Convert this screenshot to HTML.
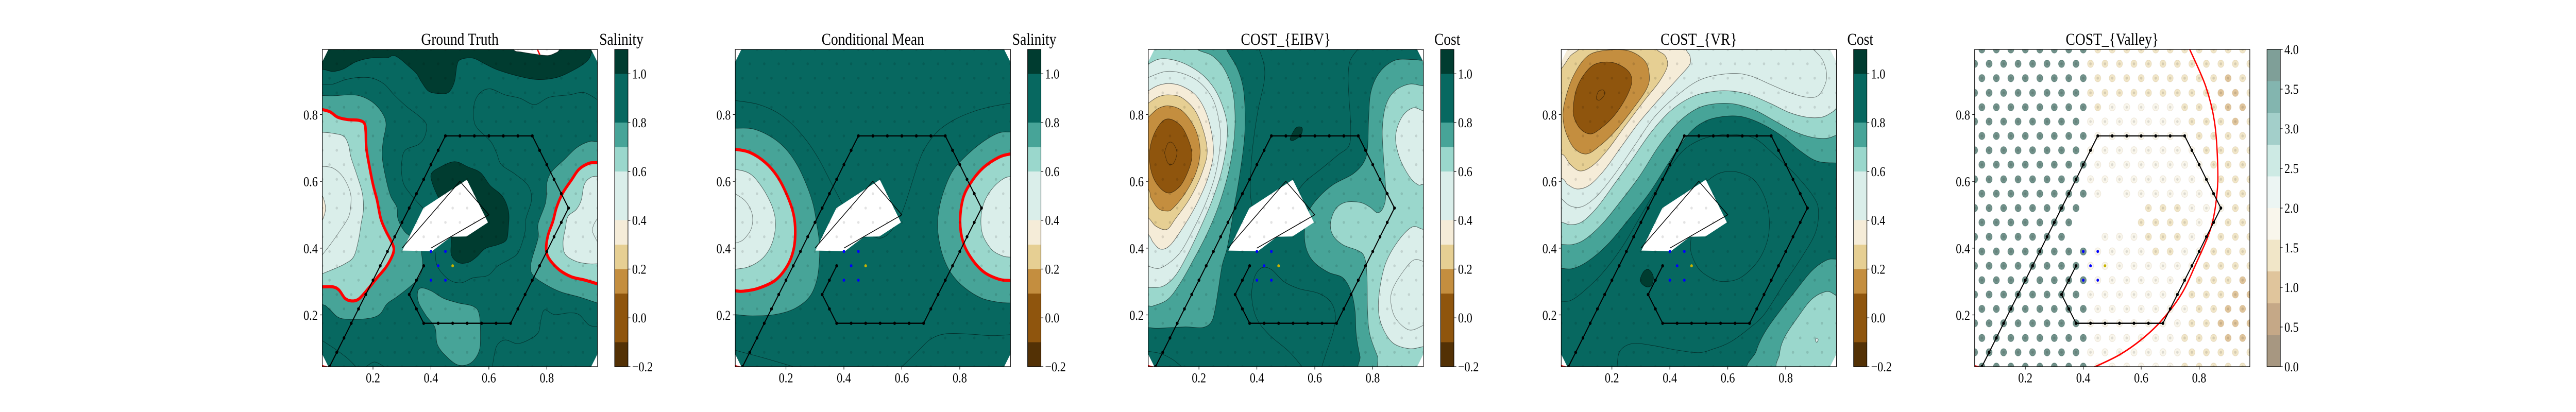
<!DOCTYPE html>
<html lang="en">
<head>
<meta charset="utf-8">
<title>Salinity and cost fields</title>
<style>
html,body{margin:0;padding:0;background:#fff;width:100%;height:100%;overflow:hidden;}
#chart{display:block;position:absolute;left:0;top:0;width:100vw;height:100vh;font-family:"Liberation Serif","Times New Roman",serif;fill:#000;}
</style>
</head>
<body>
<svg id="chart" xmlns="http://www.w3.org/2000/svg" viewBox="0 0 6000 800" preserveAspectRatio="none"></svg>
<script>
/* ---------- axes ---------- */
const xLimits=[0.025,0.975];
const yLimits=[0.045,0.995];
const xTickValues=[0.2,0.4,0.6,0.8];
const yTickValues=[0.2,0.4,0.6,0.8];
const xTickLabels=["0.2","0.4","0.6","0.8"];
const yTickLabels=["0.2","0.4","0.6","0.8"];

/* ---------- colour scales ---------- */
const fieldLevels=[-0.2,-0.1,0.1,0.2,0.3,0.4,0.6,0.7,0.8,1.0,1.1];
const fieldColors=["#533105","#8f550d","#c48e3f","#e6cf93","#f5ecd8","#daeeea","#9ad7cc","#47a498","#076860","#003c30"];
const fieldTicks=[-0.2,0,0.2,0.4,0.6,0.8,1.0];
const fieldTickLabels=["\u22120.2","0.0","0.2","0.4","0.6","0.8","1.0"];
const valleyLevels=[0,0.4,0.8,1.2,1.6,2.0,2.4,2.8,3.2,3.6,4.0];
const valleyColors=["#a79781","#c5a887","#e0c59c","#f1e6c8","#f9f6ec","#ecf5f3","#cdeae4","#a3cfca","#83b5af","#7f9f98"];
const valleyTicks=[0,0.5,1,1.5,2,2.5,3,3.5,4];
const valleyTickLabels=["0.0","0.5","1.0","1.5","2.0","2.5","3.0","3.5","4.0"];

/* ---------- sampling grid ---------- */
const gridRowY=[0.045,0.088,0.131,0.175,0.218,0.261,0.304,0.347,0.39,0.434,0.477,0.52,0.563,0.606,0.65,0.693,0.736,0.779,0.822,0.865,0.909,0.952,0.995];
const gridColEven=[0.05,0.1,0.15,0.2,0.25,0.3,0.35,0.4,0.45,0.5,0.55,0.6,0.65,0.7,0.75,0.8,0.85,0.9,0.95];
const gridColOdd=[0.025,0.075,0.125,0.175,0.225,0.275,0.325,0.375,0.425,0.475,0.525,0.575,0.625,0.675,0.725,0.775,0.825,0.875,0.925,0.975];

/* ---------- vehicle route, obstacle, samples ---------- */
const routeX=[0.05,0.075,0.1,0.125,0.15,0.175,0.2,0.225,0.25,0.275,0.3,0.325,0.35,0.375,0.4,0.425,0.45,0.5,0.55,0.6,0.65,0.7,0.75,0.775,0.8,0.825,0.85,0.875,0.85,0.825,0.8,0.775,0.75,0.725,0.7,0.675,0.625,0.575,0.525,0.475,0.425,0.375,0.35,0.325,0.35,0.375];
const routeY=[0.045,0.088,0.131,0.175,0.218,0.261,0.304,0.347,0.39,0.434,0.477,0.52,0.563,0.606,0.65,0.693,0.736,0.736,0.736,0.736,0.736,0.736,0.736,0.693,0.65,0.606,0.563,0.52,0.477,0.434,0.39,0.347,0.304,0.261,0.218,0.175,0.175,0.175,0.175,0.175,0.175,0.175,0.218,0.261,0.304,0.347];
const obstacleLine=[[0.3,0.4],[0.5,0.6],[0.6,0.5],[0.4,0.4]];
const obstacleMask=[[0.3016,0.3926],[0.374,0.52],[0.524,0.605],[0.597,0.477],[0.523,0.435],[0.469,0.434],[0.404,0.391]];
const candidateX=[0.4,0.45,0.425,0.4,0.45];
const candidateY=[0.39,0.39,0.347,0.304,0.304];
const nextPointX=[0.475];
const nextPointY=[0.347];
const cornerTL=[[0.02,0.958],[0.025,0.958],[0.046,0.995],[0.046,1.0],[0.02,1.0]];
const cornerTR=[[0.953,1.0],[0.953,0.995],[0.975,0.957],[0.98,0.957],[0.98,1.0]];
const cornerBL=[[0.02,0.082],[0.025,0.082],[0.046,0.045],[0.046,0.04],[0.02,0.04]];
const cornerBR=[[0.953,0.04],[0.953,0.045],[0.975,0.083],[0.98,0.083],[0.98,0.04]];
const cornerRed=[[0.025,0.05],[0.025,0.045],[0.045,0.045]];

/* ---------- Ground Truth contours ---------- */
const gtBand75Left=[[0.025,0.857],[0.061,0.856],[0.112,0.859],[0.154,0.856],[0.197,0.838],[0.231,0.806],[0.245,0.771],[0.235,0.721],[0.232,0.672],[0.243,0.615],[0.26,0.558],[0.282,0.523],[0.286,0.488],[0.307,0.452],[0.333,0.434],[0.367,0.417],[0.367,0.39],[0.371,0.346],[0.358,0.311],[0.324,0.282],[0.282,0.254],[0.248,0.233],[0.222,0.201],[0.18,0.189],[0.112,0.187],[0.078,0.194],[0.048,0.219],[0.025,0.231],[-0.03,0.231],[-0.03,0.857]];
const gtBand75Right=[[0.974,0.719],[0.945,0.719],[0.902,0.7],[0.86,0.665],[0.817,0.629],[0.8,0.594],[0.796,0.537],[0.77,0.473],[0.77,0.431],[0.745,0.353],[0.753,0.318],[0.8,0.289],[0.851,0.268],[0.911,0.254],[0.974,0.236],[1.03,0.22],[1.03,0.719]];
const gtBand75Bottom=[[0.367,0.281],[0.354,0.268],[0.358,0.236],[0.384,0.197],[0.414,0.162],[0.422,0.112],[0.452,0.077],[0.494,0.05],[0.537,0.056],[0.566,0.091],[0.571,0.141],[0.566,0.204],[0.545,0.226],[0.494,0.236],[0.443,0.25],[0.401,0.272]];
const gtDarkTop=[[-0.03,0.93],[0.025,0.935],[0.061,0.929],[0.099,0.937],[0.141,0.958],[0.197,0.97],[0.248,0.97],[0.269,0.977],[0.29,0.969],[0.324,0.944],[0.35,0.923],[0.367,0.898],[0.392,0.87],[0.426,0.863],[0.46,0.866],[0.481,0.898],[0.49,0.948],[0.503,0.965],[0.545,0.969],[0.588,0.951],[0.63,0.934],[0.698,0.916],[0.766,0.905],[0.834,0.911],[0.894,0.934],[0.936,0.958],[0.953,0.983],[0.953,1.03],[-0.03,1.03]];
const gtDarkCenter=[[0.405,0.594],[0.401,0.622],[0.426,0.64],[0.481,0.659],[0.528,0.643],[0.571,0.626],[0.605,0.587],[0.647,0.555],[0.668,0.509],[0.667,0.459],[0.66,0.424],[0.63,0.41],[0.588,0.399],[0.558,0.374],[0.528,0.357],[0.494,0.357],[0.47,0.381],[0.47,0.431],[0.46,0.495],[0.426,0.551]];
const gtRedLeft=[[-0.03,0.825],[0.025,0.815],[0.052,0.808],[0.078,0.792],[0.112,0.785],[0.15,0.783],[0.17,0.774],[0.175,0.749],[0.177,0.7],[0.188,0.643],[0.201,0.587],[0.214,0.544],[0.227,0.488],[0.244,0.452],[0.265,0.417],[0.272,0.396],[0.265,0.374],[0.244,0.342],[0.214,0.311],[0.18,0.275],[0.15,0.247],[0.124,0.242],[0.103,0.25],[0.082,0.275],[0.061,0.284],[0.025,0.284],[-0.03,0.284]];
const gtRedRight=[[1.03,0.658],[0.974,0.656],[0.945,0.654],[0.911,0.636],[0.885,0.604],[0.855,0.565],[0.834,0.523],[0.821,0.48],[0.804,0.438],[0.798,0.396],[0.809,0.367],[0.843,0.335],[0.885,0.314],[0.928,0.305],[0.974,0.293],[1.03,0.275]];
const gtBand50Left=[[-0.03,0.75],[0.025,0.747],[0.061,0.744],[0.099,0.735],[0.116,0.707],[0.124,0.672],[0.146,0.615],[0.163,0.565],[0.167,0.516],[0.159,0.473],[0.15,0.424],[0.133,0.374],[0.103,0.353],[0.069,0.339],[0.025,0.323],[-0.03,0.3]];
const gtBand50Right=[[1.03,0.6],[0.974,0.615],[0.945,0.608],[0.928,0.587],[0.919,0.544],[0.902,0.516],[0.873,0.495],[0.864,0.459],[0.856,0.417],[0.864,0.381],[0.902,0.36],[0.945,0.353],[0.974,0.353],[1.03,0.353]];
const gtBand35Sliver=[[0.015,0.557],[0.025,0.557],[0.035,0.53],[0.035,0.509],[0.025,0.484],[0.015,0.484]];
const gtWhiteTop=[[0.686,0.994],[0.715,0.987],[0.766,0.98],[0.804,0.977],[0.826,0.983],[0.843,0.994],[0.85,1.03],[0.68,1.03]];
const gtLine90A=[[0.025,0.891],[0.061,0.891],[0.103,0.904],[0.15,0.911],[0.197,0.909],[0.239,0.891],[0.273,0.859],[0.316,0.824],[0.358,0.796],[0.384,0.771],[0.379,0.735],[0.358,0.711],[0.311,0.693],[0.299,0.657],[0.299,0.622],[0.307,0.59],[0.333,0.558],[0.373,0.519]];
const gtLine90B=[[0.974,0.845],[0.928,0.866],[0.877,0.859],[0.809,0.852],[0.758,0.83],[0.707,0.849],[0.656,0.859],[0.605,0.877],[0.571,0.866],[0.55,0.834],[0.548,0.785],[0.562,0.757],[0.605,0.721],[0.626,0.686],[0.643,0.65],[0.69,0.622],[0.736,0.587],[0.747,0.544],[0.728,0.488],[0.724,0.445],[0.702,0.388],[0.673,0.367],[0.63,0.346],[0.596,0.318],[0.545,0.311],[0.503,0.296],[0.46,0.307],[0.422,0.346],[0.415,0.388]];
const gtLine90C=[[0.974,0.165],[0.945,0.17],[0.911,0.201],[0.877,0.206],[0.826,0.201],[0.792,0.215],[0.779,0.183],[0.771,0.148],[0.741,0.127],[0.698,0.114],[0.656,0.125],[0.626,0.105],[0.612,0.045]];
const gtLine90D=[[0.025,0.123],[0.069,0.098],[0.112,0.07],[0.141,0.045]];
const gtLine90E=[[0.176,0.045],[0.205,0.059],[0.239,0.045]];
const gtLine50Left=[[0.025,0.645],[0.061,0.64],[0.095,0.615],[0.12,0.572],[0.124,0.537],[0.116,0.494],[0.086,0.452],[0.052,0.41],[0.025,0.38]];
const gtLine50Right=[[0.974,0.488],[0.962,0.47],[0.958,0.449],[0.974,0.42]];
const gtRedTop=[[0.768,0.994],[0.776,0.979]];

/* ---------- Conditional Mean contours ---------- */
const cmBand75Left=[[-0.03,0.759],[0.025,0.759],[0.085,0.757],[0.145,0.735],[0.196,0.7],[0.238,0.65],[0.272,0.587],[0.294,0.53],[0.306,0.473],[0.315,0.417],[0.315,0.36],[0.306,0.303],[0.281,0.254],[0.23,0.219],[0.162,0.201],[0.085,0.197],[0.025,0.201],[-0.03,0.205]];
const cmBand75Right=[[1.03,0.748],[0.974,0.748],[0.935,0.745],[0.884,0.721],[0.825,0.679],[0.774,0.629],[0.74,0.558],[0.725,0.495],[0.725,0.445],[0.74,0.381],[0.77,0.325],[0.816,0.282],[0.876,0.25],[0.935,0.238],[0.974,0.236],[1.03,0.236]];
const cmRedLeft=[[-0.03,0.7],[0.025,0.696],[0.077,0.686],[0.128,0.657],[0.17,0.615],[0.204,0.558],[0.226,0.502],[0.232,0.449],[0.226,0.395],[0.204,0.346],[0.162,0.303],[0.102,0.279],[0.051,0.271],[0.025,0.272],[-0.03,0.275]];
const cmRedRight=[[1.03,0.69],[0.974,0.682],[0.935,0.672],[0.884,0.643],[0.842,0.601],[0.812,0.551],[0.801,0.48],[0.812,0.417],[0.842,0.367],[0.884,0.328],[0.935,0.307],[0.974,0.303],[1.03,0.3]];
const cmBand50Left=[[-0.03,0.64],[0.025,0.636],[0.077,0.622],[0.119,0.58],[0.153,0.523],[0.164,0.473],[0.153,0.417],[0.124,0.374],[0.077,0.346],[0.025,0.337],[-0.03,0.337]];
const cmBand50Right=[[1.03,0.61],[0.974,0.614],[0.944,0.604],[0.91,0.576],[0.884,0.537],[0.873,0.488],[0.88,0.438],[0.91,0.396],[0.944,0.378],[0.974,0.373],[1.03,0.373]];
const cmLine50=[[0.025,0.563],[0.06,0.541],[0.081,0.509],[0.085,0.48],[0.077,0.452],[0.051,0.424],[0.025,0.415]];
const cmLine90A=[[0.025,0.842],[0.102,0.831],[0.17,0.806],[0.221,0.771],[0.272,0.721],[0.315,0.664],[0.357,0.594],[0.396,0.53]];
const cmLine90B=[[0.974,0.834],[0.91,0.824],[0.85,0.81],[0.782,0.785],[0.723,0.749],[0.68,0.7],[0.655,0.65],[0.629,0.579],[0.608,0.523],[0.594,0.494]];
const cmLine90C=[[0.502,0.434],[0.527,0.43],[0.553,0.442],[0.574,0.464]];
const cmLine90D=[[0.025,0.094],[0.128,0.07],[0.226,0.045]];
const cmLine90E=[[0.6,0.045],[0.655,0.091],[0.697,0.126],[0.748,0.143],[0.825,0.143],[0.91,0.138],[0.974,0.141]];

/* ---------- COST EIBV contours ---------- */
const eibvBand75Left=[[0.285,1.03],[0.295,0.995],[0.331,0.941],[0.352,0.884],[0.359,0.813],[0.357,0.728],[0.34,0.615],[0.323,0.53],[0.314,0.481],[0.297,0.399],[0.28,0.348],[0.267,0.277],[0.255,0.214],[0.242,0.178],[0.212,0.162],[0.153,0.164],[0.059,0.16],[0.025,0.162],[-0.03,0.162],[-0.03,1.03]];
const eibvBand65Left=[[0.17,1.03],[0.195,0.995],[0.246,0.976],[0.289,0.934],[0.318,0.863],[0.324,0.757],[0.306,0.643],[0.272,0.537],[0.229,0.445],[0.178,0.36],[0.136,0.296],[0.093,0.247],[0.042,0.227],[0.025,0.227],[-0.03,0.227],[-0.03,1.03]];
const eibvBand50Left=[[-0.03,0.92],[0.025,0.951],[0.068,0.967],[0.119,0.962],[0.17,0.944],[0.221,0.912],[0.263,0.863],[0.293,0.792],[0.297,0.728],[0.28,0.636],[0.246,0.544],[0.204,0.459],[0.161,0.381],[0.119,0.318],[0.076,0.286],[0.025,0.282],[-0.03,0.28]];
const eibvBand35=[[-0.03,0.84],[0.025,0.871],[0.059,0.887],[0.097,0.893],[0.144,0.884],[0.195,0.852],[0.233,0.785],[0.25,0.693],[0.233,0.615],[0.195,0.537],[0.153,0.473],[0.102,0.41],[0.068,0.397],[0.042,0.417],[0.025,0.441],[-0.03,0.48]];
const eibvBand25=[[-0.03,0.8],[0.025,0.834],[0.059,0.853],[0.097,0.859],[0.144,0.849],[0.195,0.799],[0.228,0.7],[0.212,0.629],[0.17,0.551],[0.119,0.488],[0.089,0.456],[0.051,0.466],[0.025,0.491],[-0.03,0.53]];
const eibvBand15=[[-0.03,0.75],[0.025,0.792],[0.059,0.818],[0.097,0.826],[0.144,0.81],[0.187,0.757],[0.204,0.693],[0.191,0.629],[0.153,0.565],[0.11,0.519],[0.089,0.511],[0.059,0.519],[0.034,0.551],[0.025,0.576],[-0.03,0.62]];
const eibvBand00=[[0.029,0.679],[0.042,0.735],[0.072,0.778],[0.102,0.786],[0.14,0.764],[0.165,0.721],[0.176,0.679],[0.165,0.636],[0.136,0.587],[0.097,0.565],[0.063,0.583],[0.038,0.622]];
const eibvDarkSpot=[[0.515,0.728],[0.535,0.76],[0.556,0.76],[0.552,0.739],[0.527,0.723]];
const eibvBand75Right=[[1.03,0.962],[0.975,0.962],[0.935,0.965],[0.875,0.962],[0.824,0.927],[0.794,0.87],[0.786,0.792],[0.782,0.7],[0.769,0.657],[0.731,0.622],[0.663,0.59],[0.612,0.551],[0.578,0.509],[0.565,0.459],[0.569,0.403],[0.595,0.36],[0.646,0.328],[0.697,0.311],[0.726,0.268],[0.739,0.211],[0.743,0.141],[0.756,0.077],[0.773,0.03],[1.03,0.03]];
const eibvBand65Right=[[1.03,0.885],[0.975,0.886],[0.926,0.891],[0.875,0.87],[0.845,0.827],[0.833,0.756],[0.837,0.672],[0.845,0.566],[0.837,0.523],[0.817,0.506],[0.79,0.523],[0.756,0.537],[0.705,0.537],[0.671,0.516],[0.654,0.474],[0.663,0.438],[0.697,0.41],[0.748,0.393],[0.771,0.374],[0.78,0.318],[0.782,0.211],[0.79,0.141],[0.816,0.077],[0.837,0.03],[1.03,0.03]];
const eibvBand50TopRight=[[1.03,0.8],[0.975,0.811],[0.939,0.82],[0.901,0.793],[0.879,0.736],[0.892,0.672],[0.926,0.615],[0.956,0.59],[0.975,0.591],[1.03,0.59]];
const eibvBand50BottomRight=[[1.03,0.45],[0.975,0.456],[0.935,0.463],[0.884,0.417],[0.841,0.346],[0.82,0.245],[0.828,0.176],[0.867,0.118],[0.926,0.099],[0.975,0.105],[1.03,0.11]];
const eibvLine50Left=[[0.025,0.911],[0.085,0.929],[0.144,0.923],[0.204,0.895],[0.25,0.842],[0.272,0.764],[0.272,0.7],[0.255,0.615],[0.221,0.53],[0.178,0.452],[0.136,0.388],[0.093,0.353],[0.059,0.339],[0.025,0.346]];
const eibvLine50Right=[[0.975,0.36],[0.943,0.365],[0.909,0.335],[0.871,0.282],[0.862,0.24],[0.879,0.19],[0.926,0.155],[0.975,0.169]];
const eibvLine00=[[0.081,0.686],[0.093,0.714],[0.11,0.714],[0.124,0.686],[0.112,0.654],[0.093,0.654],[0.081,0.686]];
const eibvLine90A=[[0.408,0.995],[0.425,0.948],[0.425,0.898],[0.404,0.813],[0.386,0.707],[0.378,0.615],[0.378,0.558],[0.384,0.523]];
const eibvLine90B=[[0.748,0.995],[0.722,0.962],[0.715,0.912],[0.718,0.849],[0.724,0.764],[0.718,0.707],[0.68,0.679],[0.62,0.636],[0.569,0.601],[0.539,0.569]];
const eibvLine90C=[[0.556,0.045],[0.51,0.091],[0.442,0.141],[0.399,0.19],[0.382,0.254],[0.391,0.311],[0.416,0.341],[0.45,0.336],[0.493,0.3],[0.544,0.279],[0.612,0.265],[0.654,0.24],[0.671,0.198],[0.663,0.148],[0.641,0.091],[0.624,0.045]];
const eibvLine90D=[[0.025,0.091],[0.068,0.084],[0.11,0.066],[0.14,0.045]];

/* ---------- COST VR contours ---------- */
const vrBand75Wave=[[-0.03,0.339],[0.025,0.339],[0.065,0.339],[0.116,0.36],[0.184,0.41],[0.252,0.48],[0.329,0.565],[0.397,0.657],[0.465,0.742],[0.524,0.781],[0.592,0.795],[0.652,0.793],[0.72,0.771],[0.788,0.735],[0.847,0.693],[0.907,0.661],[0.976,0.655],[1.03,0.655],[1.03,1.03],[-0.03,1.03]];
const vrBand65Wave=[[-0.03,0.411],[0.025,0.411],[0.065,0.411],[0.108,0.427],[0.167,0.473],[0.227,0.537],[0.295,0.615],[0.363,0.707],[0.431,0.778],[0.499,0.82],[0.567,0.833],[0.626,0.831],[0.694,0.813],[0.762,0.781],[0.83,0.749],[0.89,0.732],[0.941,0.729],[0.976,0.739],[1.03,0.76],[1.03,1.03],[-0.03,1.03]];
const vrBand50Wave=[[-0.03,0.475],[0.025,0.477],[0.057,0.47],[0.099,0.48],[0.15,0.523],[0.21,0.594],[0.269,0.665],[0.337,0.749],[0.405,0.813],[0.482,0.855],[0.558,0.87],[0.618,0.87],[0.677,0.859],[0.745,0.834],[0.813,0.806],[0.873,0.792],[0.924,0.792],[0.958,0.806],[0.976,0.82],[1.03,0.87],[1.03,1.03],[-0.03,1.03]];
const vrBand35=[[-0.03,0.58],[0.025,0.608],[0.048,0.59],[0.082,0.577],[0.125,0.59],[0.176,0.636],[0.235,0.707],[0.295,0.778],[0.38,0.863],[0.439,0.919],[0.469,0.951],[0.469,0.976],[0.456,0.995],[0.45,1.03],[-0.03,1.03]];
const vrBand25=[[-0.03,0.66],[0.025,0.682],[0.057,0.65],[0.091,0.631],[0.133,0.647],[0.184,0.693],[0.244,0.764],[0.312,0.842],[0.363,0.898],[0.391,0.944],[0.384,0.976],[0.354,0.995],[0.33,1.03],[0.12,1.03],[0.086,0.995],[0.057,0.976],[0.025,0.937],[-0.03,0.89]];
const vrBand15=[[0.031,0.799],[0.04,0.849],[0.065,0.912],[0.108,0.969],[0.159,0.99],[0.252,0.992],[0.312,0.962],[0.329,0.919],[0.32,0.877],[0.269,0.813],[0.21,0.749],[0.159,0.707],[0.112,0.682],[0.069,0.7],[0.04,0.749]];
const vrBand00=[[0.067,0.827],[0.078,0.877],[0.103,0.919],[0.142,0.951],[0.201,0.956],[0.252,0.934],[0.269,0.902],[0.252,0.856],[0.21,0.799],[0.159,0.757],[0.125,0.742],[0.091,0.757],[0.069,0.792]];
const vrBand75Corner=[[0.69,0.03],[0.698,0.091],[0.728,0.148],[0.779,0.211],[0.83,0.268],[0.89,0.332],[0.941,0.364],[0.976,0.367],[1.03,0.367],[1.03,0.03]];
const vrBand65Corner=[[0.788,0.03],[0.779,0.084],[0.796,0.133],[0.839,0.19],[0.89,0.247],[0.941,0.27],[0.976,0.257],[1.03,0.23],[1.03,0.03]];
const vrBand50Speck=[[0.902,0.125],[0.908,0.131],[0.912,0.125],[0.907,0.118]];
const vrDarkSpot=[[0.299,0.311],[0.312,0.332],[0.329,0.335],[0.343,0.314],[0.337,0.289],[0.32,0.284],[0.301,0.296]];
const vrLine50=[[0.025,0.549],[0.057,0.526],[0.099,0.525],[0.15,0.558],[0.21,0.622],[0.278,0.707],[0.346,0.792],[0.422,0.855],[0.507,0.905],[0.609,0.923],[0.677,0.916],[0.745,0.891],[0.813,0.866],[0.873,0.852],[0.915,0.859],[0.941,0.909],[0.928,0.962],[0.89,1.0]];
const vrLine00=[[0.146,0.852],[0.154,0.87],[0.171,0.873],[0.174,0.859],[0.159,0.844],[0.148,0.845],[0.146,0.852]];
const vrLine90A=[[0.025,0.241],[0.057,0.243],[0.099,0.268],[0.167,0.325],[0.235,0.403],[0.303,0.502],[0.371,0.601],[0.439,0.686],[0.507,0.725],[0.575,0.739],[0.626,0.74],[0.694,0.728],[0.762,0.679],[0.839,0.615],[0.898,0.551],[0.913,0.509],[0.902,0.445],[0.856,0.374],[0.796,0.296],[0.728,0.204],[0.677,0.162],[0.609,0.119],[0.55,0.098],[0.499,0.087],[0.422,0.095],[0.337,0.109],[0.269,0.114],[0.227,0.091],[0.218,0.045]];
const vrLine90B=[[0.473,0.431],[0.473,0.388],[0.499,0.339],[0.541,0.311],[0.584,0.3],[0.643,0.311],[0.703,0.36],[0.737,0.424],[0.743,0.488],[0.728,0.551],[0.694,0.601],[0.652,0.623],[0.609,0.63],[0.567,0.623],[0.528,0.601]];

/* ---------- COST Valley scatter (bottom row first) ---------- */
const valleyCost=[
[3.8,3.8,3.8,3.8,3.8,3.8,3.8,3.8,1.8,1.8,1.8,1.8,1.8,1.8,1.4,1.4,1.4,1.4,1.4],
[3.8,3.8,3.8,3.8,3.8,3.8,3.8,3.8,1.8,1.8,1.8,1.8,1.8,1.8,1.8,1.4,1.4,1.4,1.4,1.4],
[3.8,3.8,3.8,3.8,3.8,3.8,3.8,3.8,1.8,1.8,1.8,1.8,1.8,1.8,1.4,1.4,1.4,1.1,1.1],
[3.8,3.8,3.8,3.8,3.8,3.8,3.8,3.8,1.8,1.8,1.8,1.8,1.8,1.8,1.8,1.4,1.4,1.1,1.1,1.1],
[3.8,3.8,3.8,3.8,3.8,3.8,3.8,3.8,1.8,1.8,1.8,1.8,1.8,1.8,1.8,1.4,1.4,1.1,1.1],
[3.8,3.8,3.8,3.8,3.8,3.8,3.8,3.8,1.8,1.8,1.8,1.8,1.8,1.8,1.8,1.4,1.4,1.4,1.1,1.1],
[3.8,3.8,3.8,3.8,3.8,3.8,3.8,3.8,1.8,1.8,1.8,1.8,1.8,1.8,1.8,1.4,1.4,1.5,1.1],
[3.8,3.8,3.8,3.8,3.8,3.8,3.8,3.8,1.8,1.8,1.8,1.8,1.8,1.8,1.8,1.8,1.4,1.4,1.4,1.4],
[3.8,3.8,3.8,3.8,3.8,3.8,3.8,3.8,1.8,1.8,1.8,1.8,1.4,1.4,1.8,1.8,1.4,1.4,1.4],
[3.8,3.8,3.8,3.8,3.8,3.8,3.8,null,null,1.8,1.8,1.8,1.4,1.4,1.4,1.8,1.8,1.4,1.4,1.4],
[3.8,3.8,3.8,3.8,3.8,3.8,3.8,null,null,null,null,1.4,1.4,1.4,1.4,1.8,1.8,1.4,1.4],
[3.8,3.8,3.8,3.8,3.8,3.8,3.8,3.8,null,null,null,null,1.4,1.4,1.4,1.8,1.8,1.8,1.4,1.4],
[3.8,3.8,3.8,3.8,3.8,3.8,3.8,3.8,1.7,null,1.8,1.8,1.8,1.8,1.8,1.8,1.8,1.4,1.4],
[3.8,3.8,3.8,3.8,3.8,3.8,3.8,3.8,1.8,1.8,1.8,1.8,1.8,1.8,1.8,1.8,1.8,1.4,1.4,1.4],
[3.8,3.8,3.8,3.8,3.8,3.8,3.8,3.8,1.8,1.8,1.8,1.8,1.8,1.8,1.8,1.8,1.4,1.4,1.4],
[3.8,3.8,3.8,3.8,3.8,3.8,3.8,3.8,1.8,1.8,1.8,1.8,1.8,1.8,1.8,1.8,1.4,1.4,1.4,1.4],
[3.8,3.8,3.8,3.8,3.8,3.8,3.8,3.8,1.8,1.8,1.8,1.8,1.8,1.8,1.8,1.4,1.4,1.4,1.4],
[3.8,3.8,3.8,3.8,3.8,3.8,3.8,3.8,1.8,1.8,1.8,1.8,1.8,1.8,1.8,1.4,1.4,1.4,1.1,1.4],
[3.8,3.8,3.8,3.8,3.8,3.8,3.8,3.8,1.4,1.8,1.8,1.8,1.8,1.8,1.4,1.4,1.4,1.1,1.1],
[3.8,3.8,3.8,3.8,3.8,3.8,3.8,3.8,1.4,1.4,1.4,1.4,1.4,1.4,1.4,1.4,1.4,1.1,1.1,1.4],
[3.8,3.8,3.8,3.8,3.8,3.8,3.8,3.8,1.4,1.4,1.4,1.4,1.4,1.4,1.4,1.4,1.4,1.1,1.4],
[3.8,3.8,3.8,3.8,3.8,3.8,3.8,3.8,1.4,1.4,1.4,1.4,1.4,1.4,1.4,1.4,1.4,1.4,1.4,1.4],
[3.8,3.8,3.8,3.8,3.8,3.8,3.8,3.8,1.4,1.4,1.4,1.4,1.4,1.4,1.4,1.4,1.4,1.4,1.4]
];
const valleyRedCurve=[[0.755,1.018],[0.768,0.994],[0.823,0.884],[0.853,0.778],[0.864,0.65],[0.861,0.558],[0.84,0.459],[0.789,0.353],[0.738,0.261],[0.67,0.183],[0.602,0.127],[0.526,0.081],[0.441,0.045],[0.398,0.03]];

/* ---------- panel definitions ---------- */
const panelTitles=["Ground Truth","Conditional Mean","COST_{EIBV}","COST_{VR}","COST_{Valley}"];
const colorbarTitles=["Salinity","Salinity","Cost","Cost",""];
const panelSlugs=["ground-truth","conditional-mean","cost-eibv","cost-vr","cost-valley"];
const panelBands=[
 [[0.75,gtBand75Left],[0.75,gtBand75Right],[0.75,gtBand75Bottom],[1.05,gtDarkTop],[1.05,gtDarkCenter],[0.65,gtRedLeft],[0.65,gtRedRight],[0.5,gtBand50Left],[0.5,gtBand50Right],[0.35,gtBand35Sliver],[1.2,gtWhiteTop]],
 [[0.75,cmBand75Left],[0.75,cmBand75Right],[0.65,cmRedLeft],[0.65,cmRedRight],[0.5,cmBand50Left],[0.5,cmBand50Right]],
 [[0.75,eibvBand75Left],[0.65,eibvBand65Left],[0.5,eibvBand50Left],[0.35,eibvBand35],[0.25,eibvBand25],[0.15,eibvBand15],[0.0,eibvBand00],[1.05,eibvDarkSpot],[0.75,eibvBand75Right],[0.65,eibvBand65Right],[0.5,eibvBand50TopRight],[0.5,eibvBand50BottomRight]],
 [[0.75,vrBand75Wave],[0.65,vrBand65Wave],[0.5,vrBand50Wave],[0.35,vrBand35],[0.25,vrBand25],[0.15,vrBand15],[0.0,vrBand00],[0.75,vrBand75Corner],[0.65,vrBand65Corner],[0.5,vrBand50Speck],[1.05,vrDarkSpot]],
 []
];
const panelLines=[
 [gtLine90A,gtLine90B,gtLine90C,gtLine90D,gtLine90E,gtLine50Left,gtLine50Right],
 [cmLine50,cmLine90A,cmLine90B,cmLine90C,cmLine90D,cmLine90E],
 [eibvLine50Left,eibvLine50Right,eibvLine00,eibvLine90A,eibvLine90B,eibvLine90C,eibvLine90D],
 [vrLine50,vrLine00,vrLine90A,vrLine90B],
 []
];
const panelRed=[[gtRedLeft,gtRedRight],[cmRedLeft,cmRedRight],[],[],[]];
const panelLeft=[750.7,1712.6,2674.5,3636.4,4599.3];

const AX_W=641, AX_TOP=96, AX_BOTTOM=712, CB_OFFSET=681, CB_W=31;
const NS="http://www.w3.org/2000/svg";
const svg=document.getElementById("chart");
const defs=document.createElementNS(NS,"defs");
svg.appendChild(defs);

function mk(tag,attrs,parent,text){
  const el=document.createElementNS(NS,tag);
  for(const k in attrs){el.setAttribute(k,attrs[k]);}
  if(text!==undefined){el.textContent=text;}
  parent.appendChild(el);
  return el;
}
function colorOf(v,levels,colors){
  for(let i=0;i<colors.length;i++){if(v>=levels[i]&&v<levels[i+1]){return colors[i];}}
  return "#ffffff";
}
function smoothPath(pts,closed){
  const n=pts.length;
  const at=i=>closed?pts[(i+n)%n]:pts[Math.max(0,Math.min(n-1,i))];
  let d="M"+pts[0][0].toFixed(1)+" "+pts[0][1].toFixed(1);
  const end=closed?n:n-1;
  for(let i=0;i<end;i++){
    const p0=at(i-1),p1=at(i),p2=at(i+1),p3=at(i+2);
    const c1x=p1[0]+(p2[0]-p0[0])/6,c1y=p1[1]+(p2[1]-p0[1])/6;
    const c2x=p2[0]-(p3[0]-p1[0])/6,c2y=p2[1]-(p3[1]-p1[1])/6;
    d+="C"+c1x.toFixed(1)+" "+c1y.toFixed(1)+" "+c2x.toFixed(1)+" "+c2y.toFixed(1)+" "+p2[0].toFixed(1)+" "+p2[1].toFixed(1);
  }
  return d+(closed?"Z":"");
}
function straightPath(pts,closed){
  return "M"+pts.map(p=>p[0].toFixed(1)+" "+p[1].toFixed(1)).join("L")+(closed?"Z":"");
}

function drawColorbar(parent,slug,left,levels,colors,ticks,labels,vmin,vmax,title){
  const yc=v=>AX_BOTTOM-(v-vmin)/(vmax-vmin)*(AX_BOTTOM-AX_TOP);
  const g=mk("g",{},parent);
  
  
  colors.forEach((c,i)=>{
    const top=yc(levels[i+1]),bot=yc(levels[i]);
    const r=mk("rect",{x:left,y:top,width:CB_W,height:bot-top,fill:c,"shape-rendering":"crispEdges"},g);
    
    
  });
  const frame=mk("rect",{x:left,y:AX_TOP,width:CB_W,height:AX_BOTTOM-AX_TOP,fill:"none",stroke:"#000","stroke-width":1.3},g);
  
  
  ticks.forEach((t,i)=>{
    const tm=mk("line",{x1:left+CB_W,x2:left+CB_W+5.5,y1:yc(t),y2:yc(t),stroke:"#000","stroke-width":1.2},g);
    
    
    const lb=mk("text",{x:left+CB_W+9.5,y:yc(t)+9,"font-size":26.7},g,labels[i]);
    
    
  });
  if(title){
    const tt=mk("text",{x:left+CB_W/2,y:87,"font-size":33,"text-anchor":"middle"},g,title);
    
    
  }
}

panelTitles.forEach((title,idx)=>{
  const slug=panelSlugs[idx];
  const left=panelLeft[idx];
  const sx=v=>left+(v-xLimits[0])/(xLimits[1]-xLimits[0])*AX_W;
  const sy=v=>AX_BOTTOM-(v-yLimits[0])/(yLimits[1]-yLimits[0])*(AX_BOTTOM-AX_TOP);
  const toPx=pts=>pts.map(p=>[sx(p[0]),sy(p[1])]);

  const g=mk("g",{},svg);
  
  

  const clip=mk("clipPath",{id:"clip-"+idx},defs);
  mk("rect",{x:left,y:AX_TOP,width:AX_W,height:AX_BOTTOM-AX_TOP},clip);
  const plot=mk("g",{"clip-path":"url(#clip-"+idx+")"},g);
  
  

  const hasField=panelBands[idx].length>0;
  if(hasField){
    const base=mk("rect",{x:left,y:AX_TOP,width:AX_W,height:AX_BOTTOM-AX_TOP,fill:colorOf(0.9,fieldLevels,fieldColors)},plot);
    
    
    panelBands[idx].forEach(b=>{
      const p=mk("path",{d:smoothPath(toPx(b[1]),true),fill:colorOf(b[0],fieldLevels,fieldColors),stroke:"rgba(0,0,0,0.6)","stroke-width":1},plot);
      
      
    });
    panelLines[idx].forEach(l=>{
      const p=mk("path",{d:smoothPath(toPx(l),false),fill:"none",stroke:"rgba(0,0,0,0.55)","stroke-width":0.9},plot);
      
      
    });
    panelRed[idx].forEach(l=>{
      const p=mk("path",{d:smoothPath(toPx(l),false),fill:"none",stroke:"#ff0000","stroke-width":6,"stroke-linejoin":"round"},plot);
      
      
    });
    if(idx===0){
      const p=mk("path",{d:straightPath(toPx(gtRedTop),false),fill:"none",stroke:"#ff0000","stroke-width":3},plot);
      
      
    }
    const mask=mk("path",{d:straightPath(toPx(obstacleMask),true),fill:"#ffffff"},plot);
    
    
    [cornerTL,cornerTR,cornerBL,cornerBR].forEach(c=>{
      const p=mk("path",{d:straightPath(toPx(c),true),fill:"#ffffff"},plot);
      
      
    });
  }

  /* grid / valley points */
  gridRowY.forEach((ry,r)=>{
    const cols=r%2===0?gridColEven:gridColOdd;
    cols.forEach((cx,c)=>{
      if(!hasField){
        const v=valleyCost[r][c];
        if(v===null||v===undefined){return;}
        const d=mk("circle",{cx:sx(cx),cy:sy(ry),r:7.2,fill:colorOf(v,valleyLevels,valleyColors),stroke:v>3?"rgba(0,50,40,0.28)":"rgba(150,110,40,0.12)","stroke-width":1.3},plot);
        
        
        if(v>3){
          const o=mk("circle",{cx:sx(cx),cy:sy(ry),r:7,fill:"rgba(0,40,30,0.1)"},plot);
          
          
        }
      }
    });
  });
  if(!hasField){
    const p=mk("path",{d:smoothPath(toPx(valleyRedCurve),false),fill:"none",stroke:"#ff0000","stroke-width":3},plot);
    
    
  }
  gridRowY.forEach((ry,r)=>{
    const cols=r%2===0?gridColEven:gridColOdd;
    cols.forEach((cx,c)=>{
      if(!hasField&&(valleyCost[r][c]===null)){return;}
      const d=mk("circle",{cx:sx(cx),cy:sy(ry),r:2.8,fill:"rgba(0,0,0,0.11)"},plot);
      
      
    });
  });

  const rc=mk("path",{d:straightPath(toPx(cornerRed),true),fill:"#ff0000"},plot);
  
  

  /* route, obstacle, samples */
  if(hasField){
    const ob=mk("path",{d:straightPath(toPx(obstacleLine),false),fill:"none",stroke:"#000","stroke-width":1.5},plot);
    
    
  }
  const routePts=routeX.map((rx,i)=>[sx(rx),sy(routeY[i])]);
  const route=mk("path",{d:straightPath(routePts,false),fill:"none",stroke:"#000","stroke-width":2.3,"stroke-linejoin":"round"},plot);
  
  
  routePts.forEach(pt=>{
    const d=mk("circle",{cx:pt[0],cy:pt[1],r:3.2,fill:"#000"},plot);
    
    
  });
  candidateX.forEach((cx,i)=>{
    const d=mk("circle",{cx:sx(cx),cy:sy(candidateY[i]),r:3,fill:"#0000ff"},plot);
    
    
  });
  nextPointX.forEach((cx,i)=>{
    const d=mk("circle",{cx:sx(cx),cy:sy(nextPointY[i]),r:3,fill:"#c8b400"},plot);
    
    
  });

  /* spines and ticks */
  const spine=mk("rect",{x:left,y:AX_TOP,width:AX_W,height:AX_BOTTOM-AX_TOP,fill:"none",stroke:"#000","stroke-width":1.3},g);
  
  
  xTickValues.forEach((t,i)=>{
    const tm=mk("line",{x1:sx(t),x2:sx(t),y1:AX_BOTTOM,y2:AX_BOTTOM+5.5,stroke:"#000","stroke-width":1.2},g);
    
    
    const lb=mk("text",{x:sx(t),y:742.5,"font-size":26.7,"text-anchor":"middle"},g,xTickLabels[i]);
    
    
  });
  yTickValues.forEach((t,i)=>{
    const tm=mk("line",{x1:left-5.5,x2:left,y1:sy(t),y2:sy(t),stroke:"#000","stroke-width":1.2},g);
    
    
    const lb=mk("text",{x:left-10.5,y:sy(t)+9.5,"font-size":26.7,"text-anchor":"end"},g,yTickLabels[i]);
    
    
  });
  const tt=mk("text",{x:left+AX_W/2,y:87,"font-size":33,"text-anchor":"middle"},g,title);
  
  

  if(hasField){
    drawColorbar(g,slug,left+CB_OFFSET,fieldLevels,fieldColors,fieldTicks,fieldTickLabels,-0.2,1.1,colorbarTitles[idx]);
  }else{
    drawColorbar(g,slug,left+CB_OFFSET,valleyLevels,valleyColors,valleyTicks,valleyTickLabels,0,4,colorbarTitles[idx]);
  }
});
</script>
</body>
</html>
